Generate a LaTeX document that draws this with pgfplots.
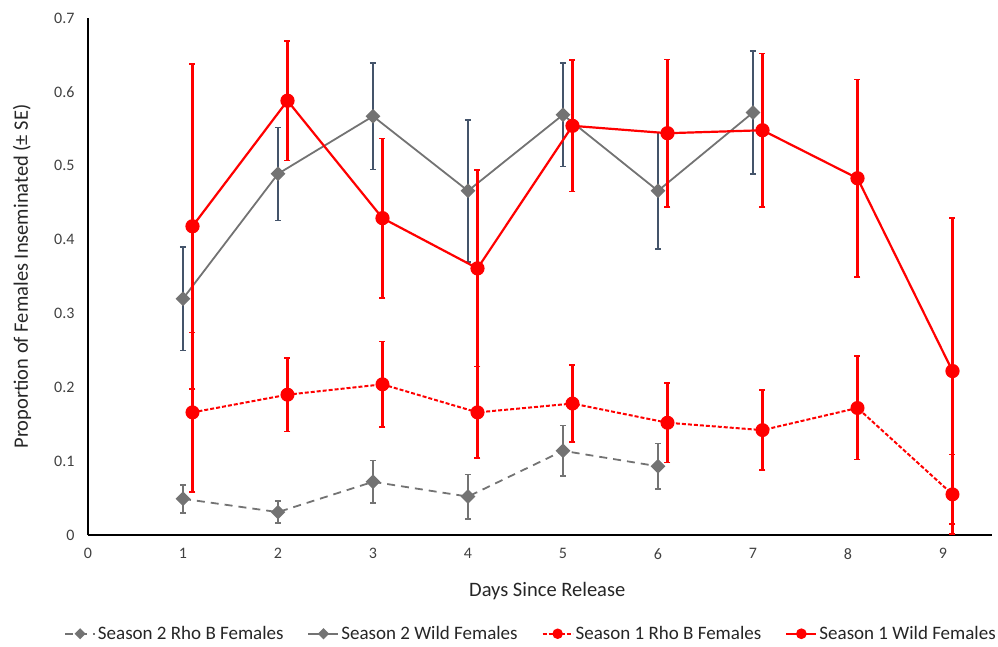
\documentclass[border=0pt]{standalone}
\usepackage{fontspec}
\setmainfont{Carlito}
\usepackage{pgfplots}
\usepackage{pgfplotstable}
\pgfplotsset{compat=1.18}
\definecolor{rred}{HTML}{FF0000}
\definecolor{ggray}{HTML}{737373}
\definecolor{slate}{HTML}{44546A}
\definecolor{tickc}{HTML}{404040}

\pgfplotstableread{
x y e
1 0.049 0.019
2 0.031 0.015
3 0.072 0.029
4 0.052 0.030
5 0.114 0.034
6 0.093 0.031
}\stwoRho

\pgfplotstableread{
x y e
1 0.320 0.070
2 0.489 0.063
3 0.567 0.072
4 0.466 0.096
5 0.569 0.070
6 0.466 0.079
7 0.572 0.083
}\stwoWild

\pgfplotstableread{
x y e
1.1 0.166 0.108
2.1 0.190 0.050
3.1 0.204 0.058
4.1 0.166 0.062
5.1 0.178 0.052
6.1 0.152 0.054
7.1 0.142 0.054
8.1 0.172 0.070
9.1 0.055 0.054
}\soneRho

\pgfplotstableread{
x y e
1.1 0.418 0.220
2.1 0.588 0.081
3.1 0.429 0.108
4.1 0.361 0.133
5.1 0.554 0.089
6.1 0.544 0.100
7.1 0.548 0.104
8.1 0.483 0.134
9.1 0.222 0.207
}\soneWild

\begin{document}
\begin{tikzpicture}
\useasboundingbox (-88pt,-111pt) rectangle (910pt,535pt);
\begin{axis}[
  at={(0,0)}, anchor=south west,
  scale only axis, width=904pt, height=517pt,
  xmin=0, xmax=9.516, ymin=0, ymax=0.7,
  axis lines*=left,
  axis line style={black, line width=1.6pt},
  x axis line style={-}, y axis line style={-},
  xtick={0,1,2,3,4,5,6,7,8,9},
  ytick={0,0.1,0.2,0.3,0.4,0.5,0.6,0.7},
  yticklabels={0,0.1,0.2,0.3,0.4,0.5,0.6,0.7},
  major tick length=0pt,
  /pgf/number format/assume math mode=true,
  tick label style={font=\fontsize{16}{18}\selectfont, text=tickc},
  yticklabel style={xshift=-10pt},
  xticklabel style={yshift=-10pt},
  xlabel={Days Since Release},
  ylabel={Proportion of Females Inseminated (± SE)},
  label style={font=\fontsize{20.5}{23}\selectfont, text=black!85},
  xlabel style={at={(axis description cs:0.508,-0.108)}, anchor=center},
  ylabel style={at={(axis description cs:-0.073,0.5)}, anchor=center},
  legend style={at={(axis description cs:0.49,-0.191)}, anchor=center, draw=none,
    font=\fontsize{19}{21}\selectfont, text=black!85, legend columns=4,
    /tikz/every even column/.append style={column sep=22pt}},
  legend image code/.code={%
    \draw[mark repeat=2,mark phase=2, every mark/.append style={scale=0.7}]
      plot coordinates {(0pt,0pt) (15pt,0pt) (30pt,0pt)};},
]
\addplot[ggray, line width=1.8pt, dash pattern=on 8pt off 6pt,
  mark=square*, mark size=4.3pt, mark options={solid, rotate=45, fill=ggray, draw=ggray},
  error bars/.cd, y dir=both, y explicit,
  error bar style={ggray, line width=2.1pt, solid},
  error mark options={ggray, rotate=90, mark size=3pt, line width=1.6pt, solid}]
  table[x=x, y=y, y error=e]{\stwoRho};
\addlegendentry{Season 2 Rho B Females}
\addplot[ggray, line width=1.8pt,
  mark=square*, mark size=4.3pt, mark options={solid, rotate=45, fill=ggray, draw=ggray},
  error bars/.cd, y dir=both, y explicit,
  error bar style={slate, line width=2.1pt, solid},
  error mark options={slate, rotate=90, mark size=3pt, line width=1.6pt, solid}]
  table[x=x, y=y, y error=e]{\stwoWild};
\addlegendentry{Season 2 Wild Females}
\addplot[rred, line width=2pt, dash pattern=on 4pt off 2pt,
  mark=*, mark size=6pt, mark options={solid, fill=rred, draw=rred},
  error bars/.cd, y dir=both, y explicit,
  error bar style={rred, line width=2.1pt, solid},
  error mark options={rred, rotate=90, mark size=3pt, line width=1.6pt, solid}]
  table[x=x, y=y, y error=e]{\soneRho};
\addlegendentry{Season 1 Rho B Females}
\addplot[rred, line width=2.2pt,
  mark=*, mark size=6pt, mark options={solid, fill=rred, draw=rred},
  error bars/.cd, y dir=both, y explicit,
  error bar style={rred, line width=2.1pt, solid},
  error mark options={rred, rotate=90, mark size=3pt, line width=1.6pt, solid}]
  table[x=x, y=y, y error=e]{\soneWild};
\addlegendentry{Season 1 Wild Females}
\end{axis}
\end{tikzpicture}
\end{document}
